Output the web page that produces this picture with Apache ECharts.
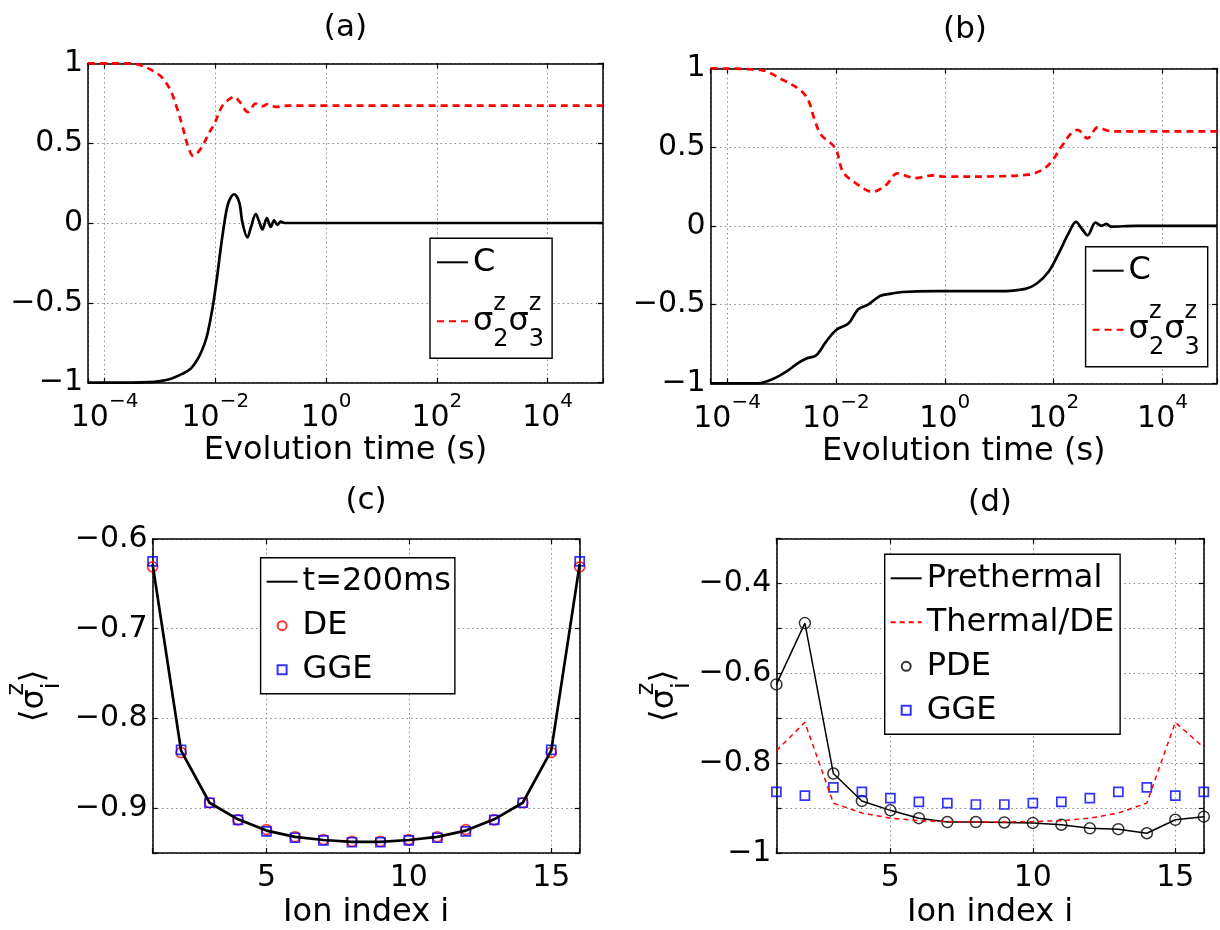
<!DOCTYPE html>
<html>
<head>
<meta charset="utf-8">
<script src="https://cdn.jsdelivr.net/npm/echarts@6/dist/echarts.min.js"></script>
<style>
html,body{margin:0;padding:0;background:#fff;}
#chart{width:1220px;height:930px;}
</style>
</head>
<body>
<div id="chart"></div>
<script>
// ---------- DATA ----------
// Panel (a): log10(time in s) and values
const aLogTimeC = [-4.3,-3.5,-3.2,-3.0,-2.8,-2.6,-2.44,-2.3,-2.2,-2.14,-2.05,-1.97,-1.9,-1.81,-1.75,-1.66,-1.57,-1.51,-1.42,-1.36,-1.27,-1.21,-1.15,-1.07,-1.0,-0.94,-0.88,-0.82,-0.75,0,5];
const aC        = [-1,-1,-0.997,-0.99,-0.975,-0.945,-0.91,-0.84,-0.76,-0.69,-0.53,-0.34,-0.15,0.06,0.14,0.18,0.13,0.0,-0.09,-0.03,0.055,0.01,-0.04,0.03,-0.025,0.017,-0.012,0.008,0,0,0];
const aLogTimeS = [-4.3,-3.6,-3.37,-3.09,-2.95,-2.81,-2.70,-2.59,-2.49,-2.40,-2.32,-2.22,-2.12,-2.02,-1.88,-1.77,-1.66,-1.56,-1.41,-1.27,-1.16,-1.05,-0.91,-0.7,5];
const aS        = [1,1,0.99,0.946,0.905,0.83,0.727,0.60,0.476,0.42,0.44,0.49,0.56,0.62,0.73,0.77,0.79,0.758,0.695,0.748,0.73,0.745,0.727,0.735,0.735];
// Panel (b)
const bLogTimeC = [-4.3,-3.43,-3.14,-2.92,-2.71,-2.54,-2.36,-2.18,-1.99,-1.77,-1.59,-1.41,-1.19,-0.98,-0.78,-0.2,1.0,1.48,1.69,1.91,2.09,2.27,2.41,2.52,2.62,2.77,2.88,2.97,3.05,3.5,5];
const bC        = [-1,-1,-0.97,-0.928,-0.875,-0.843,-0.822,-0.735,-0.66,-0.62,-0.53,-0.5,-0.445,-0.43,-0.42,-0.415,-0.415,-0.40,-0.366,-0.29,-0.176,-0.05,0.025,-0.02,-0.06,0.02,0.0,0.012,-0.005,0,0];
const bLogTimeS = [-4.3,-3.39,-2.97,-2.66,-2.51,-2.39,-2.27,-2.09,-1.99,-1.87,-1.63,-1.33,-1.08,-0.87,-0.66,-0.54,-0.23,0.01,0.98,1.53,1.77,1.95,2.14,2.32,2.44,2.62,2.81,2.99,3.2,5];
const bS        = [1,0.99,0.926,0.863,0.80,0.672,0.577,0.524,0.48,0.343,0.27,0.216,0.259,0.333,0.312,0.303,0.32,0.312,0.315,0.325,0.352,0.404,0.502,0.587,0.609,0.556,0.625,0.605,0.6,0.6];
// Panels (c), (d): ion index
const ionIndex = [1,2,3,4,5,6,7,8,9,10,11,12,13,14,15,16];
const cT200   = [-0.628,-0.836,-0.894,-0.9125,-0.925,-0.932,-0.9355,-0.9375,-0.9375,-0.9355,-0.932,-0.925,-0.9125,-0.894,-0.836,-0.628];
const cDE     = [-0.631,-0.838,-0.894,-0.913,-0.924,-0.932,-0.935,-0.937,-0.937,-0.935,-0.932,-0.924,-0.913,-0.894,-0.838,-0.631];
const cGGE    = [-0.625,-0.835,-0.894,-0.913,-0.926,-0.933,-0.936,-0.938,-0.938,-0.936,-0.933,-0.926,-0.913,-0.894,-0.835,-0.625];
const dPre    = [-0.6245,-0.488,-0.823,-0.884,-0.905,-0.9225,-0.931,-0.931,-0.932,-0.933,-0.937,-0.945,-0.947,-0.956,-0.926,-0.919];
const dThermal= [-0.772,-0.709,-0.889,-0.911,-0.9225,-0.928,-0.930,-0.931,-0.931,-0.930,-0.928,-0.9225,-0.911,-0.889,-0.709,-0.765];
const dPDE    = dPre;
const dGGE    = [-0.864,-0.872,-0.854,-0.864,-0.878,-0.886,-0.889,-0.892,-0.892,-0.889,-0.886,-0.878,-0.864,-0.854,-0.872,-0.864];
// labels
const panelTitles = ['(a)','(b)','(c)','(d)'];
const timeAxisName = 'Evolution time (s)';
const ionAxisName = 'Ion index i';

// ---------- STYLE / HELPERS ----------
const FONT = "'DejaVu Sans', sans-serif";
const zip = (xs, ys) => xs.map((x, i) => [x, ys[i]]);
const minus = s => String(s).replace('-', '\u2212');
const grids = [
  {left: 88, top: 63.3, width: 515, height: 319.4},
  {left: 710.7, top: 68.4, width: 510.3, height: 314.9},
  {left: 152.6, top: 539, width: 427.1, height: 316.3},
  {left: 776.4, top: 538.7, width: 427.4, height: 317}
];
const splitLine = {show: true, lineStyle: {color: '#8a8a8a', width: 1, type: [1.5, 3.2]}};
const axisLine = {show: true, onZero: false, lineStyle: {color: '#000', width: 1.5}};
const axisTick = {show: true, inside: true, length: 5, lineStyle: {color: '#000', width: 1.2}};
const baseLabel = {color: '#000', fontFamily: FONT, fontSize: 30};

function timeFormatter(v) {
  const r = Math.round(v);
  if (Math.abs(v - r) > 1e-6 || r % 2 !== 0) return '';
  return '{b|10}{e|' + minus(r) + '}';
}
const timeRich = {
  b: {fontFamily: FONT, fontSize: 30, lineHeight: 54, color: '#000'},
  e: {fontFamily: FONT, fontSize: 20, lineHeight: 20, verticalAlign: 'top', color: '#000'}
};
function stepFormatter(step, dec) {
  return v => {
    const k = v / step;
    if (Math.abs(k - Math.round(k)) > 1e-6) return '';
    const val = Math.round(k) * step;
    return minus(Number(val.toFixed(dec)));
  };
}
function intFormatter(v) {
  return Math.abs(v - Math.round(v)) < 1e-6 && Math.round(v) % 5 === 0 ? String(Math.round(v)) : '';
}
const nameStyle = {fontFamily: FONT, fontSize: 32, color: '#000'};
const sigmaRich = {
  s: {fontFamily: FONT, fontSize: 32, lineHeight: 60, color: '#000'},
  p: {fontFamily: FONT, fontSize: 24, lineHeight: 26, verticalAlign: 'top', width: 0, color: '#000'},
  q: {fontFamily: FONT, fontSize: 24, lineHeight: 26, verticalAlign: 'bottom', color: '#000'},
  a: {fontFamily: FONT, fontSize: 33, lineHeight: 60, color: '#000'}
};

const xAxes = [], yAxes = [];
const timeX = (g, mirror) => ({
  type: 'value', gridIndex: g, min: -4.3, max: 5, splitNumber: 5,
  position: mirror ? 'top' : 'bottom',
  axisLine, axisTick,
  splitLine: mirror ? {show: false} : splitLine,
  axisLabel: mirror ? {show: false} : {formatter: timeFormatter, rich: timeRich, margin: 9, ...baseLabel},
  name: mirror ? '' : timeAxisName, nameLocation: 'middle', nameGap: 52, nameTextStyle: nameStyle
});
const ionX = (g, mirror) => ({
  type: 'value', gridIndex: g, min: 1, max: 16, splitNumber: 3,
  position: mirror ? 'top' : 'bottom',
  axisLine, axisTick,
  splitLine: mirror ? {show: false} : splitLine,
  axisLabel: mirror ? {show: false} : {formatter: intFormatter, margin: 10, ...baseLabel},
  name: mirror ? '' : ionAxisName, nameLocation: 'middle', nameGap: 44, nameTextStyle: nameStyle
});
const valY = (g, mirror, min, max, split, fmt, name, gap) => ({
  type: 'value', gridIndex: g, min, max, splitNumber: split,
  position: mirror ? 'right' : 'left',
  axisLine, axisTick,
  splitLine: mirror ? {show: false} : splitLine,
  axisLabel: mirror ? {show: false} : {formatter: fmt, margin: 5, ...baseLabel},
  name: mirror ? '' : (name || ''), nameLocation: 'middle', nameRotate: 90, nameGap: gap || 0,
  nameTextStyle: {...nameStyle, rich: sigmaRich}
});
const yName = '{a|\u27E8}{s|\u03C3}{p|z}{q|i}{a|\u27E9}';

xAxes.push(timeX(0), timeX(1), ionX(2), ionX(3));
xAxes.push(timeX(0, true), timeX(1, true), ionX(2, true), ionX(3, true));
yAxes.push(
  valY(0, false, -1, 1, 4, stepFormatter(0.5, 1)),
  valY(1, false, -1, 1, 4, stepFormatter(0.5, 1)),
  valY(2, false, -0.95, -0.6, 4, stepFormatter(0.1, 1), yName, 88),
  valY(3, false, -1, -0.3, 5, stepFormatter(0.2, 1), yName, 81)
);
yAxes.push(
  valY(0, true, -1, 1, 4), valY(1, true, -1, 1, 4),
  valY(2, true, -0.95, -0.6, 4), valY(3, true, -1, -0.3, 5)
);

const red = '#ff0000', blue = '#0000ff';
const series = [
  {name: 'C_a', type: 'line', xAxisIndex: 0, yAxisIndex: 0, data: zip(aLogTimeC, aC), symbol: 'none', smooth: 0.35,
   lineStyle: {color: '#000', width: 2.7}, itemStyle: {color: '#000'}, z: 3},
  {name: 'S_a', type: 'line', xAxisIndex: 0, yAxisIndex: 0, data: zip(aLogTimeS, aS), symbol: 'none', smooth: 0.35,
   lineStyle: {color: red, width: 2.7, type: [7, 5]}, itemStyle: {color: red}},
  {name: 'C_b', type: 'line', xAxisIndex: 1, yAxisIndex: 1, data: zip(bLogTimeC, bC), symbol: 'none', smooth: 0.35,
   lineStyle: {color: '#000', width: 2.7}, itemStyle: {color: '#000'}, z: 3},
  {name: 'S_b', type: 'line', xAxisIndex: 1, yAxisIndex: 1, data: zip(bLogTimeS, bS), symbol: 'none', smooth: 0.35,
   lineStyle: {color: red, width: 2.7, type: [7, 5]}, itemStyle: {color: red}},
  {name: 'T_c', type: 'line', xAxisIndex: 2, yAxisIndex: 2, data: zip(ionIndex, cT200), symbol: 'none',
   lineStyle: {color: '#000', width: 2.7}, itemStyle: {color: '#000'}, z: 3},
  {name: 'DE_c', type: 'scatter', xAxisIndex: 2, yAxisIndex: 2, data: zip(ionIndex, cDE), symbol: 'circle', symbolSize: 10,
   itemStyle: {color: 'rgba(0,0,0,0)', borderColor: red, borderWidth: 1.7}},
  {name: 'GGE_c', type: 'scatter', xAxisIndex: 2, yAxisIndex: 2, data: zip(ionIndex, cGGE), symbol: 'rect', symbolSize: 9,
   itemStyle: {color: 'rgba(0,0,0,0)', borderColor: blue, borderWidth: 1.7}},
  {name: 'Pre_d', type: 'line', xAxisIndex: 3, yAxisIndex: 3, data: zip(ionIndex, dPre), symbol: 'none',
   lineStyle: {color: '#000', width: 1.5}, itemStyle: {color: '#000'}},
  {name: 'Th_d', type: 'line', xAxisIndex: 3, yAxisIndex: 3, data: zip(ionIndex, dThermal), symbol: 'none',
   lineStyle: {color: red, width: 1.5, type: [5, 4]}, itemStyle: {color: red}},
  {name: 'PDE_d', type: 'scatter', xAxisIndex: 3, yAxisIndex: 3, data: zip(ionIndex, dPDE), symbol: 'circle', symbolSize: 11,
   itemStyle: {color: 'rgba(0,0,0,0)', borderColor: '#000', borderWidth: 1.5}},
  {name: 'GGE_d', type: 'scatter', xAxisIndex: 3, yAxisIndex: 3, data: zip(ionIndex, dGGE), symbol: 'rect', symbolSize: 9,
   itemStyle: {color: 'rgba(0,0,0,0)', borderColor: blue, borderWidth: 1.7}}
];

const sigmaPair = '{s|\u03C3}{p|z}{q|2}{s|\u03C3}{p|z}{q|3}';
const legendLabels = {
  C_a: 'C', C_b: 'C', S_a: sigmaPair, S_b: sigmaPair,
  T_c: 't=200ms', DE_c: 'DE', GGE_c: 'GGE',
  Pre_d: 'Prethermal', Th_d: 'Thermal/DE', PDE_d: 'PDE', GGE_d: 'GGE'
};
const lineNames = ['C_a', 'S_a', 'C_b', 'S_b', 'T_c', 'Pre_d', 'Th_d'];
const squareIcon = 'path://M0,0L10,0L10,10L0,10Z';
const legendItem = n => {
  if (lineNames.includes(n)) return {name: n, itemStyle: {opacity: 0}};
  if (n.indexOf('GGE') === 0) return {name: n, icon: squareIcon};
  return {name: n};
};
const legendBase = (names, left, top, gap, pad) => ({
  data: names.map(legendItem),
  orient: 'vertical', left, top, itemWidth: 31, itemHeight: 9, itemGap: gap,
  padding: pad, borderColor: '#000', borderWidth: 1.4, backgroundColor: '#fff', borderRadius: 0,
  selectedMode: false, symbolKeepAspect: true,
  formatter: n => legendLabels[n],
  textStyle: {fontFamily: FONT, fontSize: 32, lineHeight: 38, color: '#000', rich: sigmaRich}
});
const legends = [
  legendBase(['C_a', 'S_a'], 430, 238.3, 10, [5, 8, 7, 6]),
  legendBase(['C_b', 'S_b'], 1085.6, 246.7, 10, [5, 8, 7, 6]),
  legendBase(['T_c', 'DE_c', 'GGE_c'], 260.6, 557.7, 6, [5, 4, 5, 5]),
  legendBase(['Pre_d', 'Th_d', 'PDE_d', 'GGE_d'], 884.7, 554.3, 6, [5, 6, 5, 5])
];

const titleCenters = [[345.4, 28], [965, 30], [366, 501], [990, 503]];
const graphic = panelTitles.map((t, i) => ({
  type: 'text', x: titleCenters[i][0], y: titleCenters[i][1],
  style: {text: t, fill: '#000', font: '31px ' + FONT, textAlign: 'center', textVerticalAlign: 'middle'}
}));

const chart = echarts.init(document.getElementById('chart'), null, {renderer: 'canvas'});
chart.setOption({
  animation: false,
  backgroundColor: '#fff',
  grid: grids.map(g => ({...g, containLabel: false})),
  xAxis: xAxes, yAxis: yAxes,
  legend: legends,
  graphic,
  series
});
</script>
</body>
</html>
